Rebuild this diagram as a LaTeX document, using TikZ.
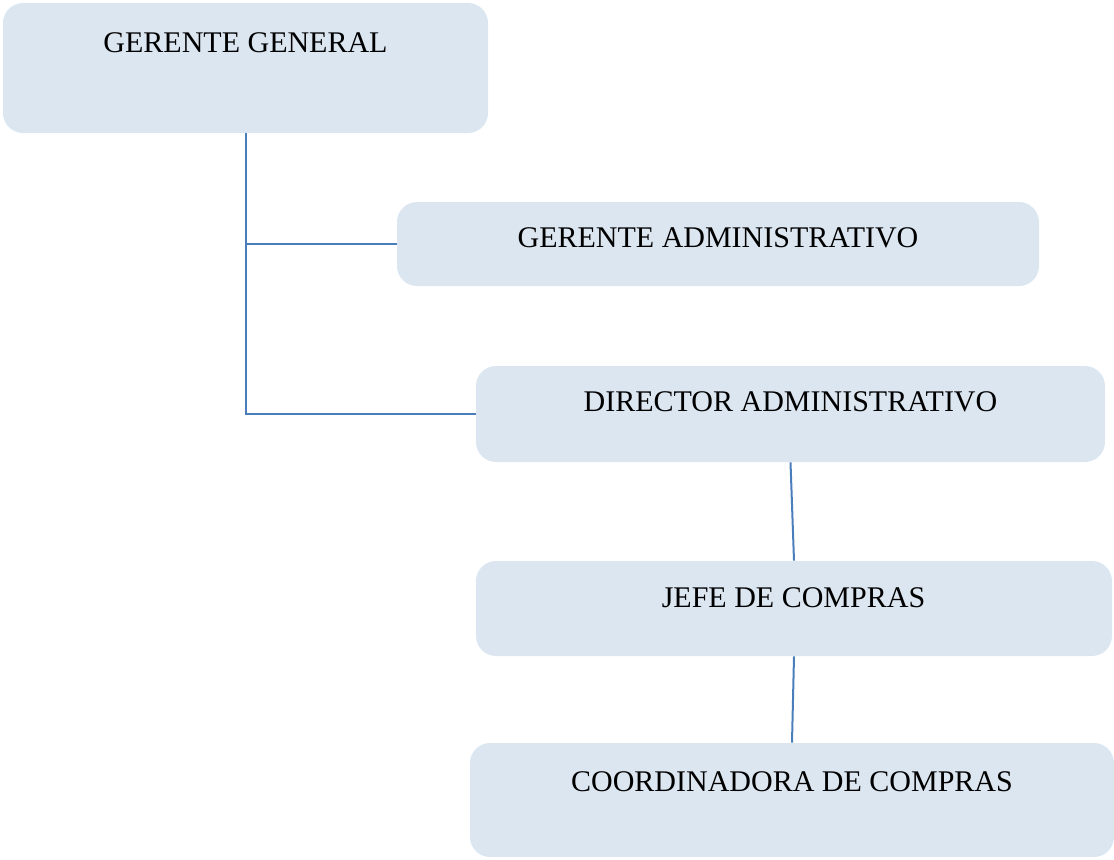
\documentclass[tikz,border=0pt]{standalone}
\usepackage{fontspec}
\setmainfont{Liberation Serif}
\usepackage{tikz}
\usetikzlibrary{positioning}
\definecolor{boxfill}{HTML}{DCE6F1}
\definecolor{linkblue}{HTML}{4A7EBB}

\begin{document}
\begin{tikzpicture}[x=0.5pt, y=-0.5pt,
    box/.style={rectangle, rounded corners=10pt, fill=boxfill, draw=none, inner sep=0pt},
    title/.style={anchor=base, inner sep=0pt, font=\fontsize{15}{18}\selectfont},
    link/.style={draw=linkblue, line width=1pt}]
  % Canvas
  \useasboundingbox (0,0) rectangle (1114,859);
  % Boxes
  \node[box, minimum width=242.5pt, minimum height=65pt] (gg) at (245.5,68) {};
  \node[box, minimum width=321pt, minimum height=42pt] (ga) at (718,244) {};
  \node[box, minimum width=314.5pt, minimum height=48pt] (da) at (790.5,414) {};
  \node[box, minimum width=318pt, minimum height=47.5pt] (jc) at (794,608.5) {};
  \node[box, minimum width=322pt, minimum height=57pt] (cc) at (792,800) {};
  % Titles
  \node[title] (gg-t) at (245.5,52) {GERENTE GENERAL};
  \node[title] (ga-t) at (718,247) {GERENTE ADMINISTRATIVO};
  \node[title] (da-t) at (790.5,411) {DIRECTOR ADMINISTRATIVO};
  \node[title] (jc-t) at (793.5,607) {JEFE DE COMPRAS};
  \node[title] (cc-t) at (792,791) {COORDINADORA DE COMPRAS};
  % Links
  \draw[link] (gg.south) |- (ga.west);
  \draw[link] (gg.south) |- (da.west);
  \draw[link] (da.south) -- (jc.north);
  \draw[link] (jc.south) -- (cc.north);
\end{tikzpicture}
\end{document}
